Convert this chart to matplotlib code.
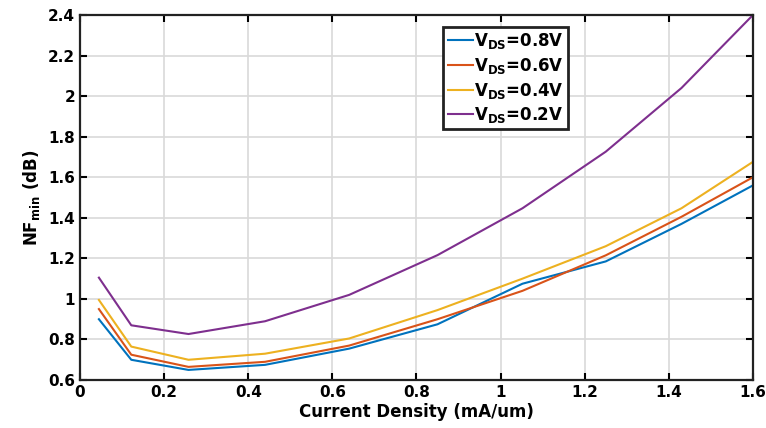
import numpy as np
import matplotlib.pyplot as plt

plt.rcParams['font.family'] = 'DejaVu Sans'
plt.rcParams['font.weight'] = 'bold'
plt.rcParams['mathtext.default'] = 'bf'

# current density (mA/um)
J = [0.045, 0.122, 0.258, 0.44, 0.64, 0.85, 1.052, 1.25, 1.43, 1.6]

# NFmin (dB) per VDS
nf_08 = [0.90, 0.70, 0.65, 0.675, 0.755, 0.875, 1.075, 1.185, 1.37, 1.56]
nf_06 = [0.95, 0.725, 0.665, 0.69, 0.77, 0.90, 1.04, 1.215, 1.405, 1.60]
nf_04 = [0.995, 0.765, 0.70, 0.73, 0.805, 0.945, 1.10, 1.26, 1.447, 1.676]
nf_02 = [1.105, 0.87, 0.827, 0.89, 1.02, 1.216, 1.447, 1.726, 2.04, 2.40]

labels = ['$V_{DS}$=0.8V', '$V_{DS}$=0.6V', '$V_{DS}$=0.4V', '$V_{DS}$=0.2V']
colors = ['#0072BD', '#D95319', '#EDB120', '#7E2F8E']

fig = plt.figure(figsize=(7.66, 4.28), dpi=100)
ax = fig.add_axes([0.1044, 0.112, 0.8786, 0.853])

for y, lab, c in zip([nf_08, nf_06, nf_04, nf_02], labels, colors):
    ax.plot(J, y, color=c, lw=1.5, label=lab)

ax.set_xlim(0, 1.6)
ax.set_ylim(0.6, 2.4)
ax.set_xticks(np.arange(0, 1.61, 0.2))
ax.set_yticks(np.arange(0.6, 2.41, 0.2))
ax.set_xticklabels(['0', '0.2', '0.4', '0.6', '0.8', '1', '1.2', '1.4', '1.6'])
ax.set_yticklabels(['0.6', '0.8', '1', '1.2', '1.4', '1.6', '1.8', '2', '2.2', '2.4'])
ax.tick_params(direction='in', top=True, right=True, length=5, width=1.5, labelsize=11)
ax.grid(True, color='#d9d9d9', lw=1.2)
for s in ax.spines.values():
    s.set_linewidth(1.6)
    s.set_color('#222222')

ax.set_xlabel('Current Density (mA/um)', fontsize=12, fontweight='bold', labelpad=2)
ax.set_ylabel('$NF_{min}$ (dB)', fontsize=12, fontweight='bold')

leg = ax.legend(loc='upper left', bbox_to_anchor=(0.54, 0.967), fontsize=12,
                handlelength=1.5, handletextpad=0.1, borderpad=0.25, labelspacing=0.28,
                borderaxespad=0, fancybox=False, framealpha=1)
leg.get_frame().set_edgecolor('#222222')
leg.get_frame().set_linewidth(2)

fig.savefig('out.png', dpi=100)
